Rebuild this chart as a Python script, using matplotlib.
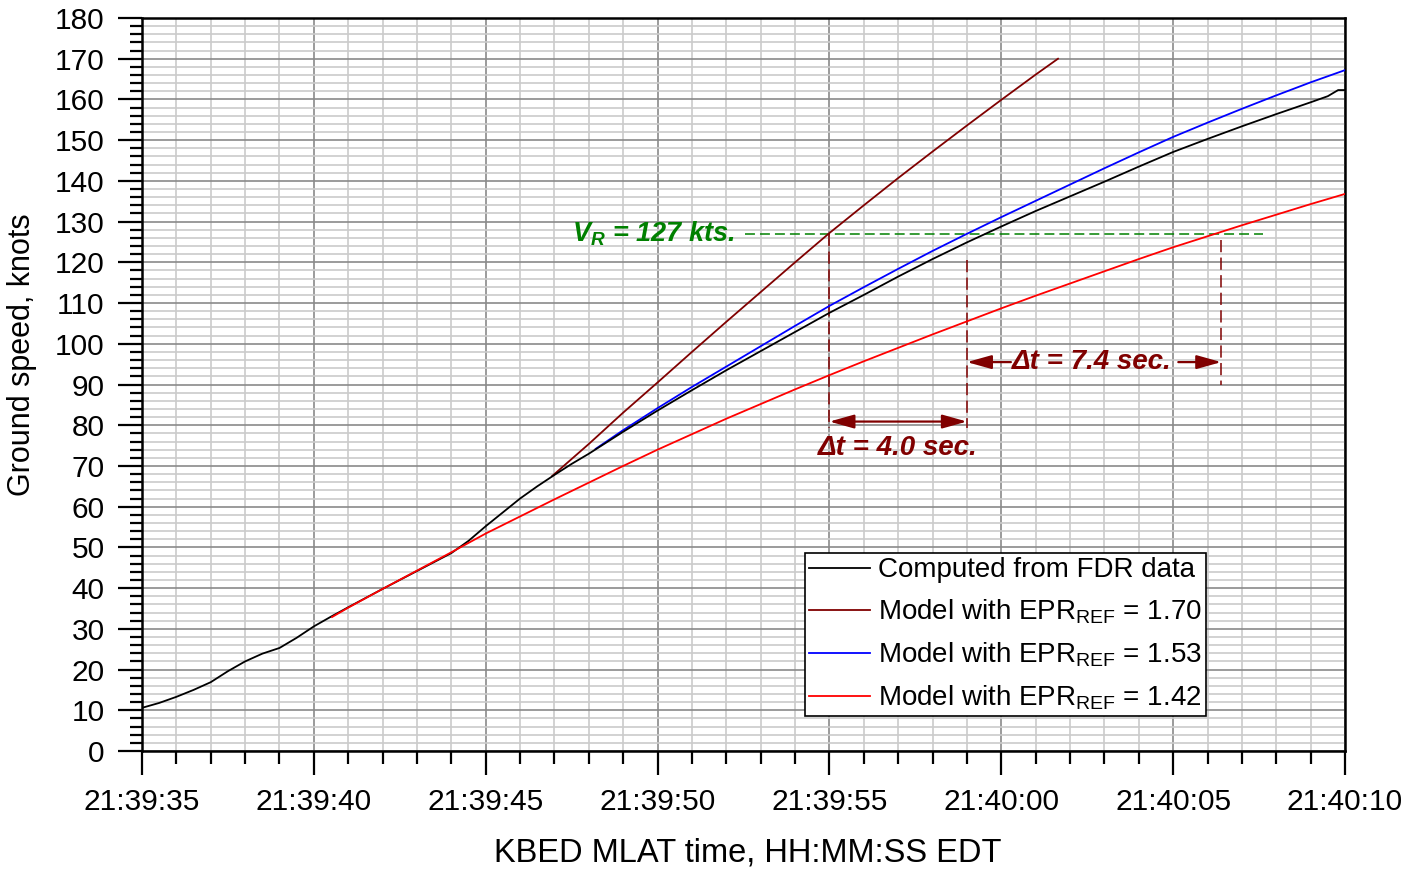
import matplotlib
matplotlib.use("Agg")
import matplotlib.pyplot as plt
from matplotlib.ticker import MultipleLocator

plt.rcParams['font.family'] = ['Liberation Sans', 'DejaVu Sans']
plt.rcParams['mathtext.fontset'] = 'custom'
plt.rcParams['mathtext.rm'] = 'Liberation Sans'
plt.rcParams['mathtext.it'] = 'Liberation Sans:italic:bold'
plt.rcParams['mathtext.bf'] = 'Liberation Sans:bold'

# --- time axis: seconds after 21:39:00 EDT ---
tick_secs = [35, 40, 45, 50, 55, 60, 65, 70]
tick_labels = ['21:39:35', '21:39:40', '21:39:45', '21:39:50',
               '21:39:55', '21:40:00', '21:40:05', '21:40:10']

# ground speed computed from FDR data
fdr_t = [35.0, 35.5, 36.0, 36.5, 37.0, 37.5, 38.0, 38.5, 39.0, 39.5, 40.0, 40.5,
         41.0, 42.0, 43.0, 44.0, 44.5, 45.0, 45.5, 46.0, 46.5, 47.0, 47.5, 48.0,
         49.0, 50.0, 51.0, 52.0, 53.0, 54.0, 55.0, 56.0, 57.0, 58.0, 59.0, 60.0,
         61.0, 62.0, 63.0, 64.0, 65.0, 66.0, 67.0, 68.0, 69.0, 69.5, 69.8, 70.0]
fdr_v = [10.6, 11.8, 13.3, 15.0, 16.9, 19.6, 22.0, 23.9, 25.3, 27.8, 30.6, 33.0,
         35.3, 39.8, 44.2, 48.6, 51.6, 55.2, 58.6, 62.0, 65.0, 67.8, 70.5, 73.0,
         78.4, 83.6, 88.6, 93.5, 98.2, 102.9, 107.6, 112.0, 116.5, 120.8, 124.9, 128.8,
         132.6, 136.2, 139.8, 143.5, 147.1, 150.3, 153.4, 156.4, 159.3, 160.8, 162.3, 162.3]

# model, EPR_REF = 1.70
m170_t = [46.93, 48, 49, 50, 51, 52, 53, 54, 55, 56, 57, 58, 59, 60, 61, 61.65]
m170_v = [67.5, 75.4, 83.1, 90.5, 98.0, 105.4, 112.7, 120.0, 127.2, 134.0,
          140.7, 147.2, 153.6, 159.9, 166.1, 170.0]

# model, EPR_REF = 1.53
m153_t = [48.2, 49, 50, 51, 52, 53, 54, 55, 56, 57, 58, 59, 60,
          61, 62, 63, 64, 65, 66, 67, 68, 69, 70]
m153_v = [74.2, 78.8, 84.2, 89.4, 94.4, 99.4, 104.4, 109.3, 113.9, 118.4, 122.8, 127.0, 131.1,
          135.1, 139.1, 143.1, 147.0, 150.8, 154.3, 157.7, 161.0, 164.2, 167.2]

# model, EPR_REF = 1.42
m142_t = [40.53, 41, 42, 43, 44, 45, 46, 47, 48, 49, 50, 51, 52, 53, 54, 55,
          56, 57, 58, 59, 60, 61, 62, 63, 64, 65, 66, 67, 68, 69, 70]
m142_v = [32.9, 35.2, 39.8, 44.3, 48.8, 53.4, 57.6, 61.8, 65.9, 70.0, 74.0, 77.8,
          81.6, 85.2, 88.8, 92.3, 95.7, 99.0, 102.3, 105.5, 108.7, 111.8, 114.8,
          117.8, 120.8, 123.7, 126.4, 129.1, 131.7, 134.3, 136.8]

# rotation speed and the times each model reaches it
vr_kts = 127
t_vr_170 = 55.0
t_vr_153 = 59.0
t_vr_142 = 66.4

DARKRED = '#800000'
GREEN = '#008000'
LW = 1.3

fig = plt.figure(figsize=(14.24, 8.75), dpi=100)
ax = fig.add_axes([142 / 1424, 1 - 751 / 875, 1203 / 1424, 733 / 875])

ax.plot(fdr_t, fdr_v, color='black', lw=LW, label='Computed from FDR data', zorder=4)
ax.plot(m170_t, m170_v, color=DARKRED, lw=LW, label=r'Model with EPR$_\mathrm{REF}$ = 1.70', zorder=3)
ax.plot(m153_t, m153_v, color='#0000ff', lw=LW, label=r'Model with EPR$_\mathrm{REF}$ = 1.53', zorder=3)
ax.plot(m142_t, m142_v, color='#ff0000', lw=LW, label=r'Model with EPR$_\mathrm{REF}$ = 1.42', zorder=5)

# V_R reference line
ax.plot([52.55, 67.6], [vr_kts, vr_kts], color=GREEN, lw=1.1, dashes=(6.5, 3.3), zorder=2)
ax.text(52.25, 125.0, r'$V_R$ = 127 kts.', color=GREEN, fontsize=19.5,
        fontweight='bold', fontstyle='italic', ha='right', va='baseline')

# vertical drop lines at the rotation times
ax.plot([t_vr_170, t_vr_170], [vr_kts, 79.3], color=DARKRED, lw=1.1, dashes=(8, 3.5), zorder=2)
ax.plot([t_vr_153, t_vr_153], [120.6, 79.3], color=DARKRED, lw=1.1, dashes=(8, 3.5), zorder=2)
ax.plot([t_vr_142, t_vr_142], [125.5, 89.9], color=DARKRED, lw=1.1, dashes=(8, 3.5), zorder=2)

head = '<|-|>,head_length=1.5,head_width=0.42'
one = '-|>,head_length=1.5,head_width=0.42'
ax.annotate('', xy=(t_vr_153, 80.9), xytext=(t_vr_170, 80.9),
            arrowprops=dict(arrowstyle=head, color=DARKRED, lw=1.6,
                            mutation_scale=10, shrinkA=0, shrinkB=0))
dt1 = t_vr_153 - t_vr_170
ax.text((t_vr_170 + t_vr_153) / 2, 74.4, f'Δt = {dt1:.1f} sec.', color=DARKRED,
        fontsize=20, fontweight='bold', fontstyle='italic', ha='center', va='center')

ax.annotate('', xy=(t_vr_153, 95.5), xytext=(60.28, 95.5),
            arrowprops=dict(arrowstyle=one, color=DARKRED, lw=1.6,
                            mutation_scale=10, shrinkA=0, shrinkB=0))
ax.annotate('', xy=(t_vr_142, 95.5), xytext=(65.15, 95.5),
            arrowprops=dict(arrowstyle=one, color=DARKRED, lw=1.6,
                            mutation_scale=10, shrinkA=0, shrinkB=0))
dt2 = t_vr_142 - t_vr_153
ax.text(62.64, 95.5, f'Δt = {dt2:.1f} sec.', color=DARKRED,
        fontsize=20, fontweight='bold', fontstyle='italic', ha='center', va='center')

# axes, ticks and grid
ax.set_xlim(35, 70)
ax.set_ylim(0, 180)
ax.set_xticks(tick_secs)
ax.set_xticklabels(tick_labels)
ax.xaxis.set_minor_locator(MultipleLocator(1))
ax.set_yticks(range(0, 181, 10))
ax.yaxis.set_minor_locator(MultipleLocator(2))
ax.tick_params(which='major', direction='out', length=17, width=1.6,
               labelsize=21.5, pad=10)
ax.tick_params(which='minor', direction='out', length=9, width=1.6)
ax.grid(which='major', color='#8a8a8a', lw=1.2)
ax.grid(which='minor', color='#cbcbcb', lw=1.2)
ax.set_axisbelow(True)
for s in ax.spines.values():
    s.set_linewidth(1.8)

fig.text(22 / 1424, 1 - 355 / 875, 'Ground speed, knots', fontsize=22,
         rotation=90, ha='center', va='center')
fig.text(748 / 1424, 1 - 853 / 875, 'KBED MLAT time, HH:MM:SS EDT', fontsize=23.5,
         ha='center', va='center')

leg = ax.legend(loc='upper left', bbox_to_anchor=(0.551, 0.270), borderaxespad=0,
                fontsize=20, handlelength=2.2, handletextpad=0.28, labelspacing=0.52,
                borderpad=0.15, fancybox=False, framealpha=1, edgecolor='black')
leg.get_frame().set_linewidth(1.2)

fig.savefig('out.png', dpi=100)
